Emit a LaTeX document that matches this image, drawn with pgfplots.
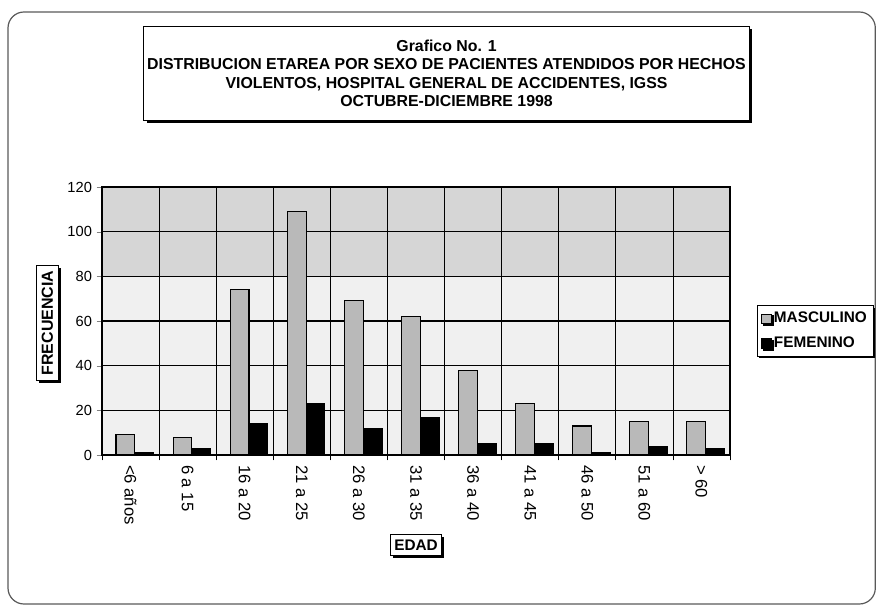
\documentclass[border=0pt]{standalone}
\usepackage{pgfplots}
\pgfplotsset{compat=1.18}
\usepackage{fontspec}
\setmainfont{Liberation Sans}
\usetikzlibrary{shadows}
\pgfplotstableread{
x M F
0 9 1
1 8 3
2 74 14
3 109 23
4 69 12
5 62 17
6 38 5
7 23 5
8 13 1
9 15 4
10 15 3
}\datatable
\begin{document}
\begin{tikzpicture}
\begin{axis}[
  set layers,
  scale only axis,
  width=471pt, height=201pt,
  at={(0,0)}, anchor=south west,
  xmin=-0.5, xmax=10.5,
  ymin=0, ymax=120,
  ytick={0,20,...,120},
  xtick={0,...,10},
  xticklabels={{<6 años},{6 a 15},{16 a 20},{21 a 25},{26 a 30},{31 a 35},{36 a 40},{41 a 45},{46 a 50},{51 a 60},{> 60}},
  minor xtick={-0.5,0.5,...,10.5},
  x tick label style={rotate=-90, anchor=west, font=\fontsize{12.5}{13}\selectfont},
  y tick label style={font=\fontsize{11}{12}\selectfont},
  /pgf/number format/assume math mode=true,
  major x tick style={draw=none},
  minor x tick style={black, line width=0.6pt},
  minor tick length=4pt,
  major tick length=4pt,
  tick align=outside,
  xtick pos=bottom, ytick pos=left,
  ymajorgrids, xminorgrids,
  major grid style={black, line width=0.9pt},
  minor grid style={black, line width=0.5pt},
  axis line style={black, line width=0.8pt},
  title={Grafico No. 1\\DISTRIBUCION ETAREA POR SEXO DE PACIENTES ATENDIDOS POR HECHOS\\VIOLENTOS, HOSPITAL GENERAL DE ACCIDENTES, IGSS\\OCTUBRE-DICIEMBRE 1998},
  title style={at={(rel axis cs:0.5486,1.3937)}, anchor=center, align=center,
    draw, line width=0.6pt, fill=white, minimum width=454pt, minimum height=70pt, inner sep=1pt,
    drop shadow={shadow xshift=2pt, shadow yshift=-2pt, fill=black, opacity=1},
    font=\bfseries\fontsize{11.9}{13.8}\selectfont},
  xlabel={EDAD},
  xlabel style={at={(rel axis cs:0.5,-0.336)}, anchor=center, draw, line width=0.6pt, fill=white,
    inner xsep=3pt, inner ysep=4pt, font=\bfseries\fontsize{11.5}{12}\selectfont,
    drop shadow={shadow xshift=2pt, shadow yshift=-2pt, fill=black, opacity=1}},
  ylabel={FRECUENCIA},
  ylabel style={at={(rel axis cs:-0.0868,0.4925)}, anchor=center, draw, line width=0.6pt, fill=white,
    inner xsep=4pt, inner ysep=4pt, font=\bfseries\fontsize{12}{12}\selectfont,
    drop shadow={shadow xshift=2pt, shadow yshift=-2pt, fill=black, opacity=1}},
  legend style={at={(rel axis cs:1.136,0.4627)}, anchor=center, draw=black, line width=0.6pt,
    fill=white, font=\bfseries\fontsize{11.5}{12}\selectfont, inner sep=3pt, row sep=5pt,
    drop shadow={shadow xshift=1.5pt, shadow yshift=-1.5pt, fill=black, opacity=1},
    /tikz/every odd column/.append style={column sep=0pt}},
  legend cell align=left,
  legend image code/.code={\draw[#1, line width=0.4pt] (0pt,-3.5pt) rectangle (7pt,3.5pt);},
]
\addplot[on layer=axis background, fill=gray!12, draw=none, forget plot] coordinates {(-0.5,0) (10.5,0) (10.5,80) (-0.5,80)};
\addplot[on layer=axis background, fill=gray!32, draw=none, forget plot] coordinates {(-0.5,80) (10.5,80) (10.5,120) (-0.5,120)};
\addplot[ybar, bar width=0.33, fill=gray!55, draw=black, line width=0.8pt, bar shift=-0.09] table[x=x, y=M] {\datatable};
\addplot[ybar, bar width=0.33, fill=black, draw=black, line width=0.8pt, bar shift=0.24] table[x=x, y=F] {\datatable};
\legend{MASCULINO, FEMENINO}
\end{axis}
\draw[gray!70!black, line width=0.9pt, rounded corners=12pt] (-70.5pt,-111.75pt) rectangle (580pt,332.25pt);
\pgfresetboundingbox
\path[use as bounding box] (-76.5pt,-114pt) rectangle (581.25pt,341.25pt);
\end{tikzpicture}
\end{document}
